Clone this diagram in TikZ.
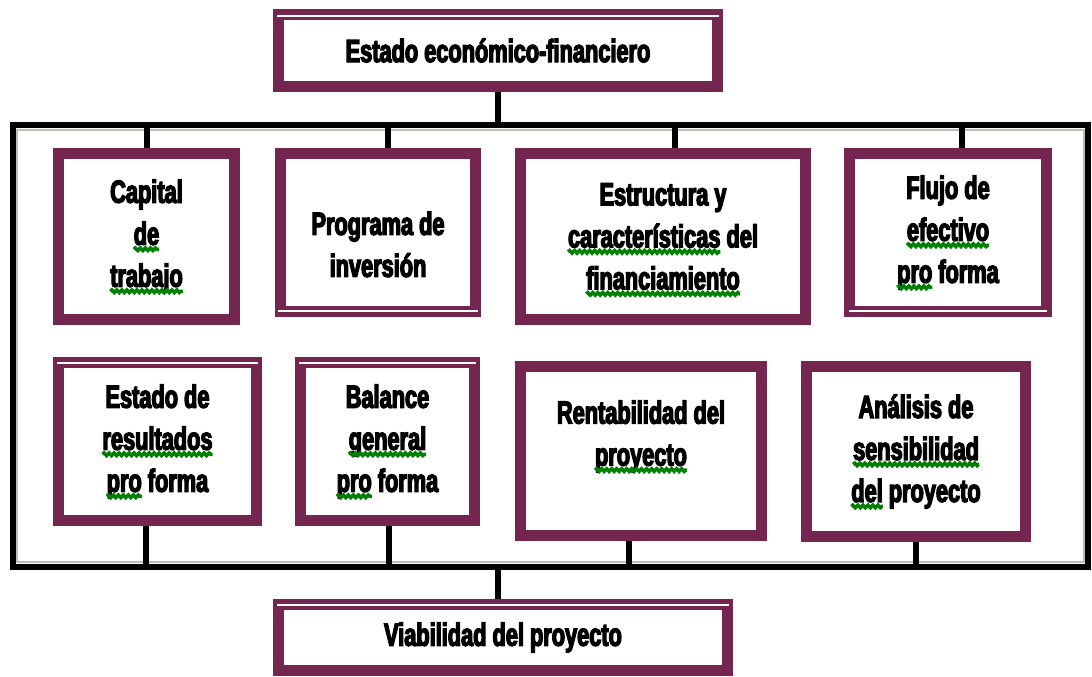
\documentclass[tikz,border=0pt]{standalone}
\usepackage{fontspec}
\usetikzlibrary{calc,decorations.pathmorphing}
\newfontfamily\boxfont{Liberation Sans}[FakeStretch=0.68, BoldFeatures={FakeBold=4}]
\definecolor{framecol}{RGB}{116,38,80}
\definecolor{spellgreen}{RGB}{0,128,0}
\definecolor{busgrey}{RGB}{190,190,178}

\tikzset{
  panel/.style={draw=framecol, line width=11pt, fill=white, inner sep=0pt,
    outer sep=5.5pt, align=center,
    font=\boxfont\bfseries\fontsize{32}{42}\selectfont},
  bus/.style={draw=black, line width=6pt, inner sep=0pt, outer sep=0pt},
  link/.style={draw=black, line width=6pt},
  sheen/.style={draw=white, line width=1.5pt},
  spellline/.style={draw=spellgreen, line width=3.5pt, decorate,
    decoration={snake, amplitude=1.3pt, segment length=5pt}},
}

% word with a wavy green underline
\newcommand\spl[1]{\tikz[baseline=0pt]{\node[draw=none,fill=none,inner sep=0pt,
  outer sep=0pt,minimum size=0pt,anchor=base west] (sw) at (0pt,0pt) {#1};
  \draw[overlay,spellline] ([yshift=-4.5pt]sw.base west) -- ([yshift=-4.5pt]sw.base east);}}

\begin{document}
\begin{tikzpicture}[x=1pt,y=-1pt]
\useasboundingbox (0,0) rectangle (1092,677);
\fill[white] (0,0) rectangle (1092,677);

% collecting frame
\node[bus, minimum width=1075pt, minimum height=442pt] (bus) at (550.5,346) {};
\draw[busgrey, line width=1.5pt] ($(bus.north west)+(4,5)$) rectangle ($(bus.south east)+(-4,-5)$);

% head and result
\node[panel, minimum width=439pt, minimum height=72pt] (top) at (498,50.5) {Estado económico-financiero};
\node[panel, minimum width=449pt, minimum height=66pt] (viab) at (503,637.5) {Viabilidad del proyecto};

% upper row
\node[panel, minimum width=176pt, minimum height=166pt] (cap) at (146.5,236.5)
  {Capital\\\spl{de}\\\spl{trabajo}};
\node[panel, minimum width=195pt, minimum height=158pt] (prog) at (378,232.5)
  {\rule{0pt}{47pt}Programa de\\inversión};
\node[panel, minimum width=285pt, minimum height=166pt] (estr) at (663,236.5)
  {Estructura y\\\spl{características} del\\\spl{financiamiento}};
\node[panel, minimum width=197pt, minimum height=158pt] (fluj) at (948,232.5)
  {Flujo de\\\spl{efectivo}\\\spl{pro} forma};

% lower row
\node[panel, minimum width=198pt, minimum height=158pt] (res) at (157.5,441.5)
  {Estado de\\\spl{resultados}\\\spl{pro} forma};
\node[panel, minimum width=174pt, minimum height=158pt] (bal) at (387.5,441.5)
  {Balance\\\spl{general}\\\spl{pro} forma};
\node[panel, minimum width=241pt, minimum height=169pt] (rent) at (641,451)
  {Rentabilidad del\\\spl{proyecto}\rule[-36pt]{0pt}{36pt}};
\node[panel, minimum width=219pt, minimum height=170pt] (anal) at (916,451.5)
  {Análisis de\\\spl{sensibilidad}\\\spl{del} proyecto};

% light strips inside some frames
\draw[sheen] ($(top.north west)+(4,7)$) -- ($(top.north east)+(-4,7)$);
\draw[sheen] ($(viab.north west)+(4,6)$) -- ($(viab.north east)+(-4,6)$);
\draw[sheen] ($(prog.south west)+(3,-6)$) -- ($(prog.south east)+(-3,-6)$);
\draw[sheen] ($(fluj.south west)+(5,-6)$) -- ($(fluj.south east)+(-5,-6)$);
\draw[sheen] ($(res.north west)+(4,6)$) -- ($(res.north east)+(-4,6)$);
\draw[sheen] ($(bal.north west)+(4,6)$) -- ($(bal.north east)+(-4,6)$);

% attachment points
\coordinate (tc) at (cap.north);
\coordinate (tp) at ([xshift=10pt]prog.north);
\coordinate (te) at ([xshift=12pt]estr.north);
\coordinate (tf) at ([xshift=14pt]fluj.north);
\coordinate (br) at ([xshift=-11.5pt]res.south);
\coordinate (bb) at ([xshift=1.5pt]bal.south);
\coordinate (bn) at ([xshift=-12pt]rent.south);
\coordinate (ba) at (anal.south);

% connectors
\draw[link] (top.south) -- (top.south |- bus.north);
\foreach \p in {tc,tp,te,tf} \draw[link] (\p |- bus.north) -- (\p);
\foreach \p in {br,bb,bn,ba} \draw[link] (\p) -- (\p |- bus.south);
\draw[link] (top.south |- bus.south) -- (top.south |- viab.north);
\end{tikzpicture}
\end{document}
